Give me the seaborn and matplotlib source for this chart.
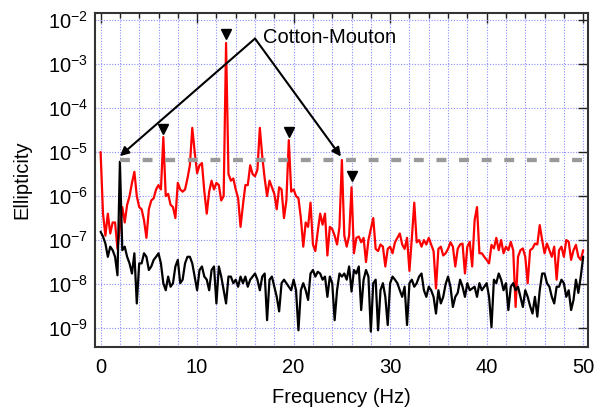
import numpy as np
import pandas as pd
import matplotlib
matplotlib.use('Agg')
import matplotlib.pyplot as plt
from matplotlib.ticker import MultipleLocator, FixedLocator, FuncFormatter, NullLocator
import seaborn as sns

# frequency axis, 0.25 Hz steps
freq = np.arange(0, 201) * 0.25

# log10 of ellipticity (one row = 2 Hz)
red_log = [
    -5.0, -6.4, -6.9, -6.4, -6.85, -6.6, -6.6, -7.2,
    -6.7, -6.25, -6.6, -6.2, -6.0, -5.7, -5.45, -6.0,
    -6.25, -6.3, -6.55, -6.95, -6.3, -6.1, -6.05, -5.85,
    -5.75, -5.85, -4.66, -6.0, -5.95, -6.2, -6.25, -6.5,
    -5.7, -5.85, -5.9, -5.85, -5.6, -5.3, -4.45, -5.0,
    -5.48, -5.3, -5.25, -5.9, -6.4, -5.9, -5.65, -5.85,
    -5.7, -5.75, -6.1, -6.0, -2.52, -5.5, -5.65, -5.6,
    -5.85, -6.05, -6.7, -6.2, -5.75, -5.75, -5.3, -5.5,
    -5.55, -5.4, -4.45, -5.1, -5.6, -6.0, -5.65, -5.8,
    -5.95, -6.3, -5.8, -5.85, -6.5, -6.1, -4.73, -5.9,
    -5.85, -6.0, -6.05, -6.5, -7.15, -6.6, -6.7, -6.15,
    -7.1, -7.25, -6.8, -6.4, -6.65, -6.4, -7.35, -6.7,
    -6.75, -6.9, -7.1, -6.7, -5.18, -6.9, -7.15, -6.9,
    -5.8, -7.3, -6.95, -6.92, -7.05, -6.95, -7.5, -7.0,
    -6.75, -6.5, -7.2, -7.25, -7.1, -7.15, -7.6, -7.2,
    -7.15, -7.3, -7.05, -6.95, -6.85, -7.1, -7.2, -6.95,
    -7.7, -6.95, -6.15, -7.05, -7.0, -7.15, -7.0, -7.1,
    -6.95, -7.1, -7.25, -8.1, -7.2, -7.15, -7.35, -7.3,
    -7.2, -7.05, -7.15, -7.6, -7.2, -7.1, -7.08, -7.76,
    -7.15, -7.04, -7.6, -6.55, -6.25, -7.3, -7.3, -7.38,
    -7.45, -7.53, -7.11, -7.19, -6.95, -7.23, -7.0, -7.3,
    -7.15, -7.23, -7.04, -7.23, -8.52, -7.38, -7.23, -7.19,
    -7.38, -7.98, -7.23, -7.19, -7.08, -7.1, -6.66, -7.0,
    -7.3, -7.08, -7.23, -7.38, -7.15, -7.9, -7.23, -7.15,
    -7.38, -7.0, -7.04, -7.45, -7.23, -7.11, -7.38, -7.45,
    -7.23,
]

black_log = [
    -6.81, -6.92, -7.08, -7.38, -7.15, -7.23, -7.38, -7.8,
    -5.22, -7.23, -7.15, -7.38, -7.53, -7.76, -7.3, -8.44,
    -7.53, -7.53, -7.3, -7.38, -7.68, -7.6, -7.45, -7.38,
    -7.3, -7.53, -7.98, -8.14, -7.83, -8.06, -7.98, -7.6,
    -7.45, -7.98, -7.9, -7.53, -7.38, -7.38, -7.53, -7.83,
    -8.14, -7.68, -7.6, -7.83, -7.9, -8.14, -7.68, -7.6,
    -8.44, -7.6, -7.83, -8.14, -8.44, -7.83, -7.83, -7.98,
    -7.9, -8.06, -7.83, -7.98, -7.83, -8.06, -7.9, -7.83,
    -7.76, -7.9, -8.14, -7.83, -7.76, -8.82, -7.9, -7.83,
    -8.06, -8.29, -8.62, -7.98, -7.9, -7.98, -8.06, -8.14,
    -7.9, -8.14, -9.05, -8.14, -7.98, -8.14, -8.36, -7.76,
    -7.68, -7.83, -7.72, -7.76, -7.9, -7.83, -8.29, -7.83,
    -7.98, -8.82, -8.14, -7.76, -7.83, -7.76, -7.9, -7.6,
    -8.17, -7.68, -7.76, -7.6, -8.59, -7.9, -7.68, -7.83,
    -9.08, -7.98, -7.9, -9.05, -8.14, -7.98, -8.29, -8.93,
    -7.98, -7.83, -7.9, -7.98, -8.14, -8.29, -8.06, -8.93,
    -7.98, -7.9, -8.06, -7.98, -7.83, -7.76, -8.14, -8.29,
    -8.06, -8.14, -8.29, -8.67, -8.14, -8.44, -8.29, -8.0,
    -7.83, -8.06, -8.52, -8.29, -8.2, -7.9, -8.06, -8.29,
    -7.98, -8.14, -8.1, -8.06, -8.29, -7.98, -8.14, -8.06,
    -7.98, -8.29, -8.98, -7.9, -7.98, -7.76, -7.9, -8.14,
    -7.98, -8.59, -8.06, -7.98, -8.14, -8.06, -8.29, -8.52,
    -8.14, -8.29, -8.5, -8.67, -8.29, -8.74, -8.14, -7.76,
    -7.76, -7.98, -8.06, -8.29, -8.44, -8.06, -8.06, -7.9,
    -7.98, -8.29, -8.14, -8.59, -8.36, -7.9, -8.2, -7.83,
    -7.38,
]

# Cotton-Mouton harmonic markers
peak_f = [6.5, 13.0, 19.5, 26.0]
peak_y = [3.3e-5, 4.8e-3, 2.8e-5, 2.8e-6]

# sensitivity level (grey dashed)
level_f = [2.0, 50.0]
level_y = [6.5e-6, 6.5e-6]

# annotation: text anchor and arrow tips
label_xy = (16.0, 3.8e-3)
arrow_tips = [(2.0, 8.1e-6), (24.9, 7.9e-6)]

df = pd.DataFrame({'freq': freq,
                   'red': 10.0 ** np.array(red_log),
                   'black': 10.0 ** np.array(black_log)})

sns.set_theme(style='white')
plt.rcParams['font.family'] = ['Liberation Sans', 'DejaVu Sans']
plt.rcParams['mathtext.fontset'] = 'custom'
plt.rcParams['mathtext.rm'] = 'Liberation Sans'
plt.rcParams['text.color'] = 'black'
plt.rcParams['axes.labelcolor'] = 'black'

fig = plt.figure(figsize=(6.0, 4.08), dpi=100)
ax = fig.add_axes([0.158, 0.1495, 0.822, 0.8186])
ax.set_yscale('log')

sns.lineplot(data=df, x='freq', y='red', color='#ff0000', linewidth=1.6, ax=ax)
sns.lineplot(data=df, x='freq', y='black', color='black', linewidth=1.6, ax=ax)
ax.plot(level_f, level_y, color='#999999', linewidth=3.1, linestyle=(0, (2.3, 2.95)))
ax.plot(peak_f, peak_y, linestyle='none', marker='v', color='black', markersize=7.5)

for tip in arrow_tips:
    ax.annotate('', xy=tip, xytext=label_xy,
                arrowprops=dict(arrowstyle='-|>', color='black', lw=1.5,
                                mutation_scale=13, shrinkA=0, shrinkB=0))
ax.text(16.8, 3.0e-3, 'Cotton-Mouton', fontsize=14.5, va='baseline', ha='left',
        color='black')

ax.set_xlim(-0.6, 50.5)
ax.set_ylim(10 ** -9.43, 10 ** -1.84)

ax.xaxis.set_major_locator(MultipleLocator(10))
ax.xaxis.set_minor_locator(MultipleLocator(2))
ax.yaxis.set_major_locator(FixedLocator([10.0 ** k for k in range(-9, -1)]))
ax.yaxis.set_minor_locator(NullLocator())
ax.yaxis.set_major_formatter(FuncFormatter(
    lambda v, p: r'$\mathregular{10^{%d}}$' % int(round(np.log10(v)))))

ax.grid(which='minor', axis='x', color='#8c8cff', linestyle=(0, (1, 1.5)), linewidth=0.8)
ax.grid(which='major', axis='both', color='#8c8cff', linestyle=(0, (1, 1.5)), linewidth=0.8)

ax.tick_params(which='both', direction='in', top=True, right=True, colors='#222222',
               labelcolor='black')
ax.tick_params(which='major', length=7, width=1.0, labelsize=14.5)
ax.tick_params(which='minor', length=3.5, width=1.0)
ax.tick_params(axis='x', which='major', pad=8)
ax.tick_params(axis='y', which='major', pad=5)

for s in ax.spines.values():
    s.set_color('#333333')
    s.set_linewidth(1.5)

ax.set_xlabel('Frequency (Hz)', fontsize=14.5, labelpad=8)
ax.set_ylabel('Ellipticity', fontsize=14.5, labelpad=12)

fig.savefig('out.png', dpi=100)
